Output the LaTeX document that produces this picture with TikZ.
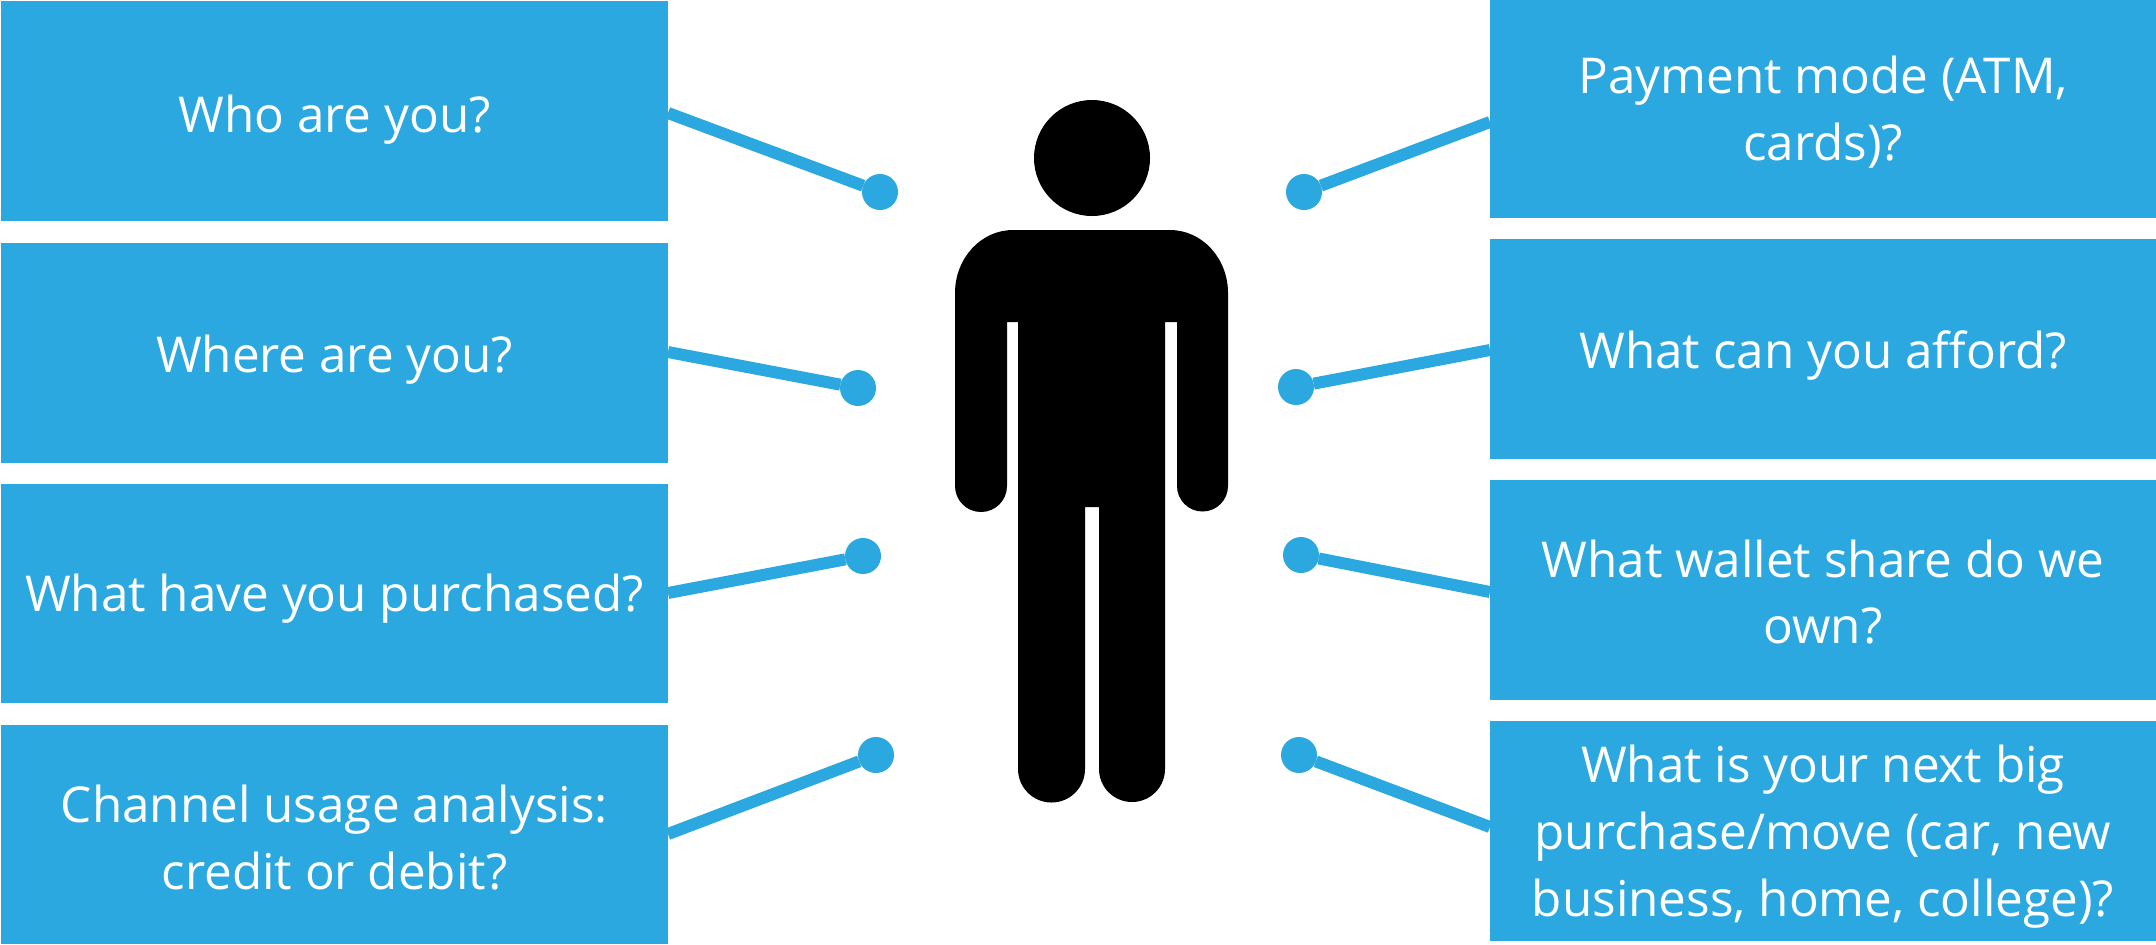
\documentclass[tikz,border=0pt]{standalone}
\usepackage{fontspec}
\setmainfont{Open Sans}
\definecolor{skyblue}{HTML}{2CA8E0}
\tikzset{
  x=0.5pt,y=-0.5pt,
  qbox/.style={rectangle,fill=skyblue,inner sep=0pt,outer sep=0pt,anchor=north west},
  qtext/.style={text=white,inner sep=0pt,align=center,font=\fontsize{24.7pt}{33.4pt}\selectfont},
  pin/.style={circle,fill=skyblue,draw=none,minimum size=18pt,inner sep=0pt,outer sep=0pt},
  wire/.style={draw=skyblue,line width=6pt},
  figure/.style={fill=black,draw=none}
}
\begin{document}
\begin{tikzpicture}
\useasboundingbox (0,0) rectangle (2156,944);
% left boxes
\node[qbox,minimum width=333.5pt,minimum height=110pt] (l1) at (1,1) {};
\node[qbox,minimum width=333.5pt,minimum height=110pt] (l2) at (1,243) {};
\node[qbox,minimum width=333.5pt,minimum height=109.5pt] (l3) at (1,484) {};
\node[qbox,minimum width=333.5pt,minimum height=109.5pt] (l4) at (1,725) {};
% right boxes
\node[qbox,minimum width=333pt,minimum height=109pt] (r1) at (1490,0) {};
\node[qbox,minimum width=333pt,minimum height=110pt] (r2) at (1490,239) {};
\node[qbox,minimum width=333pt,minimum height=110pt] (r3) at (1490,480) {};
\node[qbox,minimum width=333pt,minimum height=110pt] (r4) at (1490,721) {};
% texts
\node[qtext] (lt1) at ([yshift=-4.1pt]l1.center) {Who are you?};
\node[qtext] (lt2) at ([yshift=-3.4pt]l2.center) {Where are you?};
\node[qtext] (lt3) at ([yshift=-2.8pt]l3.center) {What have you purchased?};
\node[qtext] (lt4) at ([yshift=-1.4pt]l4.center) {Channel usage analysis:\\credit or debit?};
\node[qtext] (rt1) at ([yshift=-1.7pt]r1.center) {Payment mode (ATM,\\cards)?};
\node[qtext] (rt2) at ([yshift=-3.4pt]r2.center) {What can you afford?};
\node[qtext] (rt3) at ([yshift=-1pt]r3.center) {What wallet share do we\\own?};
\node[qtext] (rt4) at ([yshift=-2.8pt]r4.center) {What is your next big\\purchase/move (car, new\\business, home, college)?};
% pins
\node[pin] (lp1) at (880,192) {};
\node[pin] (lp2) at (858,388) {};
\node[pin] (lp3) at (863,556) {};
\node[pin] (lp4) at (876,755) {};
\node[pin] (rp1) at (1304,192) {};
\node[pin] (rp2) at (1296,387) {};
\node[pin] (rp3) at (1301,555) {};
\node[pin] (rp4) at (1299,755) {};
% connector starts on box edges
\coordinate (lc1) at (668,113);
\coordinate (lc2) at (668,352);
\coordinate (lc3) at (668,593);
\coordinate (lc4) at (668,834);
\coordinate (rc1) at (1490,122);
\coordinate (rc2) at (1490,350);
\coordinate (rc3) at (1490,592);
\coordinate (rc4) at (1490,827);
\draw[wire] (lc1) -- (lp1);
\draw[wire] (lc2) -- (lp2);
\draw[wire] (lc3) -- (lp3);
\draw[wire] (lc4) -- (lp4);
\draw[wire] (rc1) -- (rp1);
\draw[wire] (rc2) -- (rp2);
\draw[wire] (rc3) -- (rp3);
\draw[wire] (rc4) -- (rp4);
% person
\node[circle,fill=black,minimum size=58pt,inner sep=0pt] (head) at (1092,158) {};
\path[figure] (1018,322) -- (1007,322) -- (1007,486)
  arc[start angle=0,end angle=-180,radius=13pt] -- (955,293)
  arc[start angle=180,end angle=90,x radius=29pt,y radius=31.5pt] -- (1170,230)
  arc[start angle=90,end angle=0,x radius=29pt,y radius=31.5pt] -- (1228,486)
  arc[start angle=0,end angle=-180,radius=12.75pt] -- (1177,322) -- (1165,322) -- (1165,769)
  arc[start angle=0,end angle=-180,radius=16.5pt] -- (1099,507) -- (1085,507) -- (1085,769)
  arc[start angle=0,end angle=-180,radius=16.75pt] -- cycle;
\end{tikzpicture}
\end{document}
